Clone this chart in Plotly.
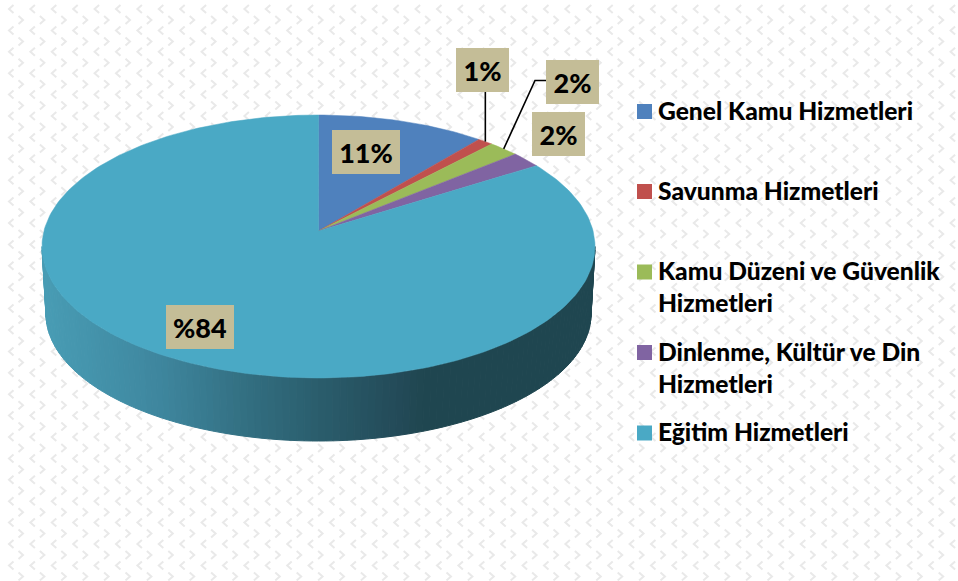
"""Budget share 3D pie, drawn on a pixel-sized cartesian plot."""

import numpy as np
import plotly.graph_objects as go

WIDTH, HEIGHT = 958, 581

CATEGORIES = [
    "Genel Kamu Hizmetleri",
    "Savunma Hizmetleri",
    "Kamu Düzeni ve Güvenlik<br>Hizmetleri",
    "Dinlenme, Kültür ve Din<br>Hizmetleri",
    "Eğitim Hizmetleri",
]
VALUES = [11, 1, 2, 2, 84]
VALUE_LABELS = ["11%", "1%", "2%", "2%", "%84"]
COLORS = ["#4F81BD", "#C0504D", "#9BBB59", "#8064A2", "#4AA9C5"]

# label box centres, px
LABEL_X = [366, 482.5, 572.5, 558.5, 200]
LABEL_Y = [152, 70, 82, 134, 327]
LABEL_W = [68, 53, 53, 53, 68]
LABEL_H = 44

FONT = "Lato, Carlito, sans-serif"

# ellipses of the top face and the base, with perspective
TOP = dict(cx=318.5, cy=246.5, rx=276.5, ry=131.5)
BASE = dict(cx=318.5, cy=314.0, rx=272.5, ry=127.0)
APEX_Y = 231.0
TILT = (TOP["cy"] - APEX_Y) / TOP["ry"]


def rim(pct):
    """Point on the top face rim for a cumulative percentage, clockwise from 12."""
    t = np.radians(np.asarray(pct, dtype=float) * 3.6)
    sx, sy = np.sin(t), np.cos(t)
    d = 1 + TILT * sy
    xn = sx * np.sqrt(1 - TILT ** 2) / d
    yn = (sy + TILT) / d
    return TOP["cx"] + TOP["rx"] * xn, TOP["cy"] - TOP["ry"] * yn


def ellipse(e, phi):
    return e["cx"] + e["rx"] * np.cos(phi), e["cy"] - e["ry"] * np.sin(phi)


def wall_color(x):
    stops = [46, 160, 250, 320, 400, 425]
    r = np.interp(x, stops, [72, 62, 50, 42, 35, 31])
    g = np.interp(x, stops, [156, 134, 110, 93, 74, 70])
    b = np.interp(x, stops, [180, 158, 128, 108, 88, 80])
    return f"rgb({r:.0f},{g:.0f},{b:.0f})"


fig = go.Figure()

# wallpaper chevrons
bg_x, bg_y = [], []
for row in range(28):
    for col in range(46):
        x0, y0 = 11 + col * 21.4, 9 + row * 21.4
        bg_x += [x0 + 2.5, x0 - 2, x0 + 2.5, None]
        bg_y += [y0 - 4, y0, y0 + 4, None]
        x1, y1 = 21 + col * 21.4, 20 + row * 21.4
        bg_x += [x1 - 2.5, x1 + 2, x1 - 2.5, None]
        bg_y += [y1 - 4, y1, y1 + 4, None]
fig.add_trace(go.Scatter(x=bg_x, y=bg_y, mode="lines", hoverinfo="skip",
                         line=dict(color="#E9E9E9", width=2)))

# side wall, as thin strips for the horizontal gradient
phis = np.radians(np.linspace(180, 360, 121))
for a, b in zip(phis[:-1], phis[1:]):
    xa, ya = ellipse(TOP, a)
    xb, yb = ellipse(TOP, b)
    xc, yc = ellipse(BASE, b)
    xd, yd = ellipse(BASE, a)
    col = wall_color((xa + xb) / 2)
    fig.add_trace(go.Scatter(x=[xa, xb, xc, xd, xa], y=[ya, yb, yc, yd, ya],
                             mode="lines", fill="toself", fillcolor=col,
                             line=dict(color=col, width=1), hoverinfo="skip"))

# top face slices
cum = np.concatenate([[0], np.cumsum(VALUES)])
for i, name in enumerate(CATEGORIES):
    pcts = np.linspace(cum[i], cum[i + 1], max(3, VALUES[i] * 3))
    xs, ys = rim(pcts)
    fig.add_trace(go.Scatter(
        x=[TOP["cx"], *xs, TOP["cx"]], y=[APEX_Y, *ys, APEX_Y],
        mode="lines", fill="toself", fillcolor=COLORS[i],
        line=dict(color=COLORS[i], width=0.5),
        name=name.replace("<br>", " "), text=f"{VALUE_LABELS[i]}", hoverinfo="name+text",
    ))

# leader lines for the two small slices that sit outside
x1, y1 = rim(cum[1] + VALUES[1] / 2)
fig.add_trace(go.Scatter(x=[x1, x1], y=[y1, LABEL_Y[1] + LABEL_H / 2], mode="lines",
                         line=dict(color="black", width=1.6), hoverinfo="skip"))
x2, y2 = rim(cum[2] + VALUES[2] / 2)
box_left = LABEL_X[2] - LABEL_W[2] / 2
fig.add_trace(go.Scatter(x=[x2, box_left - 11, box_left], y=[y2, 80.5, 80.5], mode="lines",
                         line=dict(color="black", width=1.6), hoverinfo="skip"))

# value labels
for i, txt in enumerate(VALUE_LABELS):
    fig.add_annotation(x=LABEL_X[i], y=LABEL_Y[i], text=txt, showarrow=False,
                       width=LABEL_W[i], height=LABEL_H, bgcolor="#C4BD97",
                       borderpad=0, borderwidth=0,
                       font=dict(family=FONT, size=27, color="black", weight=900))

# legend keys and text
legend_y = [111.5, 191.5, 272, 352.5, 433]
fig.add_trace(go.Scatter(x=[644.5] * len(CATEGORIES), y=legend_y, mode="markers",
                         marker=dict(symbol="square", size=15, color=COLORS, line_width=0),
                         hoverinfo="skip"))
for name, y in zip(CATEGORIES, legend_y):
    fig.add_annotation(x=656, y=y - 18, text=name, showarrow=False,
                       xanchor="left", yanchor="top", align="left",
                       font=dict(family=FONT, size=24.6, color="black", weight=900))

fig.update_layout(
    width=WIDTH, height=HEIGHT, margin=dict(l=0, r=0, t=0, b=0),
    paper_bgcolor="white", plot_bgcolor="white", showlegend=False,
    xaxis=dict(range=[0, WIDTH], visible=False, fixedrange=True),
    yaxis=dict(range=[HEIGHT, 0], visible=False, fixedrange=True),
)

fig.write_html("out.html", config={"displayModeBar": False},
               post_script="document.body.style.margin='0';")
